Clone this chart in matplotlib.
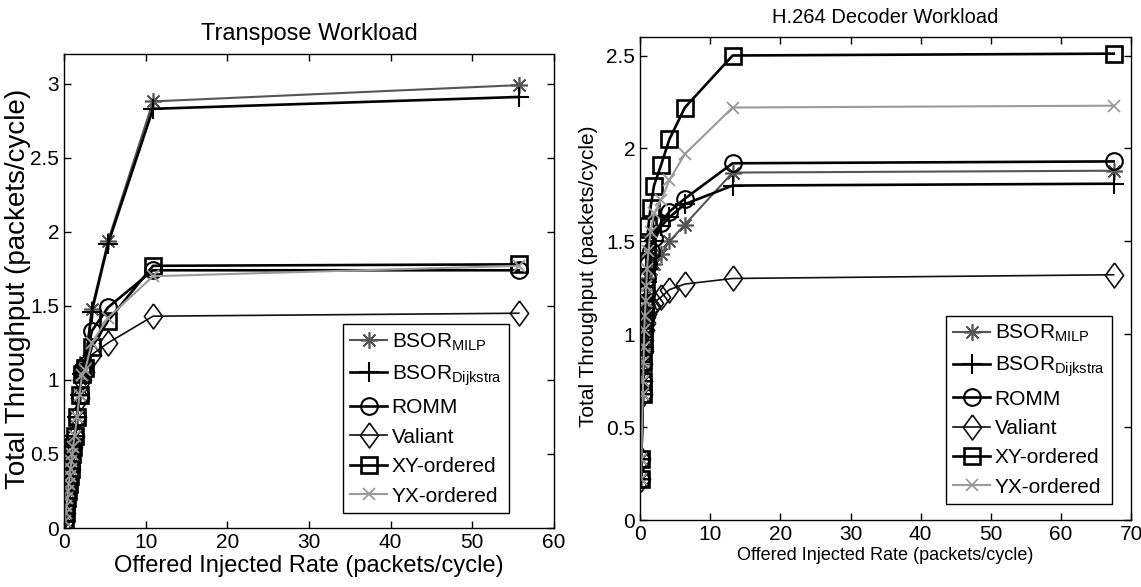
import matplotlib
matplotlib.use("Agg")
import matplotlib.pyplot as plt
from matplotlib.ticker import FormatStrFormatter, MultipleLocator

plt.rcParams["font.family"] = ["Liberation Sans", "DejaVu Sans"]
plt.rcParams["mathtext.fontset"] = "custom"
plt.rcParams["mathtext.rm"] = "Liberation Sans"
plt.rcParams["mathtext.it"] = "Liberation Sans"

series_names = ["BSOR$_{\\mathrm{MILP}}$", "BSOR$_{\\mathrm{Dijkstra}}$", "ROMM", "Valiant",
                "XY-ordered", "YX-ordered"]

# Transpose workload
x_tr = [0.1, 0.2, 0.3, 0.4, 0.5, 0.6, 0.7, 0.8, 0.9, 1.0, 1.1, 1.3, 1.6, 1.9, 2.2, 2.6, 3.4, 5.4, 10.9, 55.7]
low_tr = [0.05, 0.1, 0.15, 0.2, 0.25, 0.3, 0.35, 0.4, 0.45, 0.5, 0.55, 0.62, 0.75]
milp_tr = low_tr + [0.9, 1.05, 1.12, 1.48, 1.94, 2.88, 2.99]
dijk_tr = low_tr + [0.9, 1.04, 1.1, 1.46, 1.92, 2.83, 2.91]
romm_tr = low_tr + [0.9, 1.05, 1.1, 1.33, 1.49, 1.74, 1.74]
val_tr = low_tr + [0.88, 1.0, 1.05, 1.17, 1.25, 1.43, 1.45]
xy_tr = low_tr + [0.9, 1.04, 1.08, 1.22, 1.40, 1.77, 1.78]
yx_tr = low_tr + [0.9, 1.03, 1.07, 1.25, 1.42, 1.70, 1.77]

# H.264 decoder workload
x_h = [0.15, 0.2, 0.4, 0.45, 0.5, 0.55, 0.6, 0.7, 0.8, 0.9, 1.0, 1.2, 1.5, 2.0, 3.0, 4.2, 6.4, 13.2, 67.5]
milp_h = [0.22, 0.33, 0.68, 0.75, 0.84, 0.92, 0.99, 1.05, 1.12, 1.18, 1.24, 1.30, 1.35, 1.38, 1.43, 1.50, 1.59, 1.87, 1.88]
dijk_h = [0.22, 0.33, 0.68, 0.75, 0.85, 0.93, 1.0, 1.07, 1.14, 1.21, 1.28, 1.35, 1.42, 1.50, 1.58, 1.63, 1.70, 1.80, 1.81]
romm_h = [0.22, 0.33, 0.68, 0.75, 0.85, 0.93, 1.0, 1.08, 1.15, 1.22, 1.30, 1.38, 1.45, 1.52, 1.60, 1.66, 1.73, 1.92, 1.93]
val_h = [0.22, 0.33, 0.68, 0.75, 0.84, 0.91, 0.97, 1.02, 1.06, 1.09, 1.11, 1.13, 1.15, 1.17, 1.20, 1.24, 1.27, 1.30, 1.32]
xy_h = [0.22, 0.33, 0.68, 0.75, 0.85, 0.95, 1.05, 1.15, 1.25, 1.38, 1.48, 1.58, 1.68, 1.80, 1.91, 2.05, 2.22, 2.50, 2.51]
yx_h = [0.22, 0.33, 0.68, 0.75, 0.85, 0.93, 1.02, 1.10, 1.18, 1.26, 1.35, 1.45, 1.55, 1.65, 1.72, 1.83, 1.97, 2.22, 2.23]

diamond = [(0, 1), (0.73, 0), (0, -1), (-0.73, 0), (0, 1)]
styles = [
    dict(color="#555555", marker=(8, 2, 0), ms=12, lw=1.5, mew=1.2),
    dict(color="black", marker="+", ms=14, lw=1.9, mew=1.5),
    dict(color="black", marker="o", ms=12, lw=1.9, mfc="none", mew=1.5),
    dict(color="#111111", marker=diamond, ms=18, lw=1.2, mfc="none", mew=1.2),
    dict(color="black", marker="s", ms=12, lw=1.9, mfc="none", mew=1.9),
    dict(color="#9a9a9a", marker="x", ms=9, lw=1.5, mew=1.3),
]


def draw_sub(ax, x, ys, title, title_size, lab_size, xmax, ymax, xlabsize, ylab_x):
    for name, y, st in zip(series_names, ys, styles):
        ax.plot(x, y, label=name, **st)
    ax.set_xlim(0, xmax)
    ax.set_ylim(0, ymax)
    ax.xaxis.set_major_locator(MultipleLocator(10))
    ax.yaxis.set_major_locator(MultipleLocator(0.5))
    ax.yaxis.set_major_formatter(FormatStrFormatter("%g"))
    ax.tick_params(direction="in", top=True, right=True, length=5, labelsize=15, width=1)
    for s in ax.spines.values():
        s.set_linewidth(1.0)
    ax.set_title(title, fontsize=title_size, pad=10)
    ax.set_xlabel("Offered Injected Rate (packets/cycle)", fontsize=xlabsize, labelpad=2)
    ax.set_ylabel("Total Throughput (packets/cycle)", fontsize=lab_size)
    ax.yaxis.set_label_coords(ylab_x, 0.505)


fig = plt.figure(figsize=(11.41, 5.87), dpi=100)
ax1 = fig.add_axes([0.0561, 0.1005, 0.4294, 0.8075])
ax2 = fig.add_axes([0.5609, 0.1141, 0.4305, 0.823])

draw_sub(ax1, x_tr, [milp_tr, dijk_tr, romm_tr, val_tr, xy_tr, yx_tr],
         "Transpose Workload", 17, 20, 60, 3.2, 17, -0.067)
draw_sub(ax2, x_h, [milp_h, dijk_h, romm_h, val_h, xy_h, yx_h],
         "H.264 Decoder Workload", 14.5, 15, 70, 2.6, 13, -0.085)

for ax, anchor in [(ax1, (0.908, 0.032)), (ax2, (0.961, 0.033))]:
    leg = ax.legend(loc="lower right", bbox_to_anchor=anchor, fontsize=15, fancybox=False,
                    edgecolor="black", framealpha=1, handlelength=1.8, handletextpad=0.2,
                    borderaxespad=0, labelspacing=0.5, borderpad=0.35)
    leg.get_frame().set_linewidth(1.0)

fig.savefig("out.png")
